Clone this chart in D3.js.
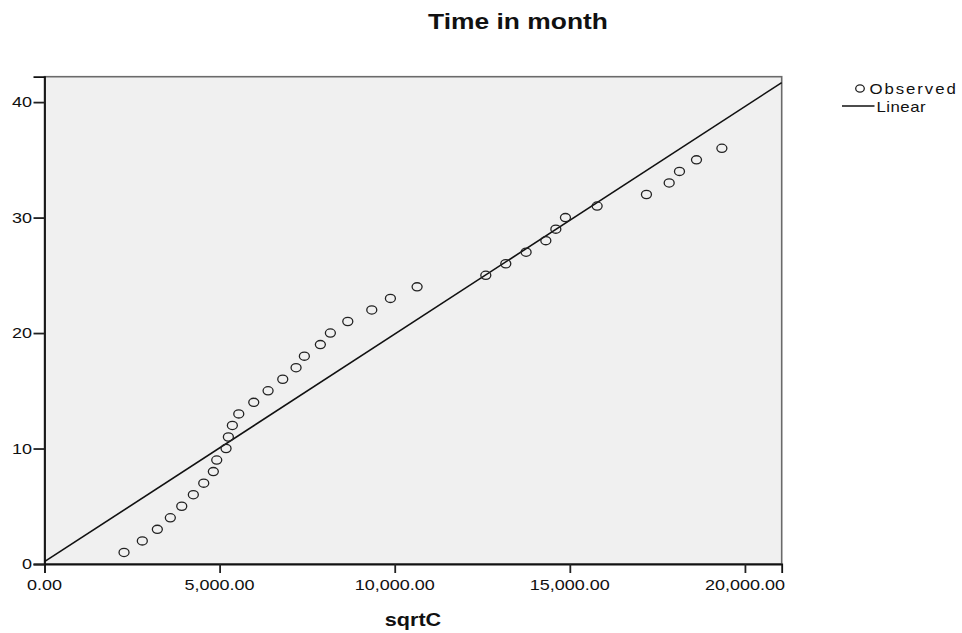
<!doctype html>
<html lang="en">
<head>
  <meta charset="utf-8">
  <title>Time in month</title>
  <style>
    body { margin: 0; background: #fff; }
    text { font-family: "Liberation Sans", Arial, sans-serif; fill: #111; }
  </style>
</head>
<body>
<div id="mychart"></div>
<script src="https://d3js.org/d3.v7.min.js"></script>
<script>
// observed values: time in month vs sqrtC
var months = [1,2,3,4,5,6,7,8,9,10,11,12,13,14,15,16,17,18,
  19,20,21,22,23,24,25,26,27,28,29,30,31,32,33,34,35,36];
var sqrtC = [2271,2793,3222,3593,3919,4250,4547,4821,4918,5184,5250,5364,5547,5975,6384,6803,7183,7420,
  7877,8163,8660,9345,9877,10639,12601,13172,13752,14315,14601,14875,15780,17188,17837,18131,18617,19342];
// fitted linear model
var intercept = 0.2;
var slope = 0.001971;
var xTicks = [0, 5000, 10000, 15000, 20000];
var yTicks = [0, 10, 20, 30, 40];

var width = 962;
var height = 633;
var svg = d3.select("#mychart").append("svg")
  .attr("width", width)
  .attr("height", height);

var x = d3.scaleLinear().domain([0, 21050]).range([44.5, 781.7]);
var y = d3.scaleLinear().domain([0, 42.2]).range([564, 76.7]);

// the source image is stretched horizontally, so text is too
var sx = 1.2;
function label(px, py, str, anchor, size, bold, spacing) {
  svg.append("text")
    .attr("transform", "translate(" + px + "," + py + ") scale(" + sx + ",1)")
    .attr("text-anchor", anchor)
    .attr("font-size", size)
    .attr("font-weight", bold ? "bold" : "normal")
    .attr("letter-spacing", spacing || 0)
    .text(str);
}

// plot background + border
svg.append("rect")
  .attr("x", x.range()[0]).attr("y", y.range()[1])
  .attr("width", x.range()[1] - x.range()[0])
  .attr("height", y.range()[0] - y.range()[1])
  .attr("fill", "#f0f0f0")
  .attr("stroke", "#6a6a6a")
  .attr("stroke-width", 1.6);

// fit line
svg.append("line")
  .attr("x1", x(0)).attr("y1", y(intercept))
  .attr("x2", x(21050)).attr("y2", y(intercept + slope * 21050))
  .attr("stroke", "#111")
  .attr("stroke-width", 1.6);

// observed points
svg.selectAll("ellipse.pt").data(months)
  .enter()
  .append("ellipse")
  .attr("class", "pt")
  .attr("cx", function(d, i) { return x(sqrtC[i]); })
  .attr("cy", function(d) { return y(d); })
  .attr("rx", 5)
  .attr("ry", 4.1)
  .attr("fill", "none")
  .attr("stroke", "#222")
  .attr("stroke-width", 1.3);

// axes
var xAxis = svg.append("g")
  .attr("transform", "translate(0," + y(0) + ")")
  .call(d3.axisBottom(x).tickValues(xTicks).tickSize(9).tickFormat(""));
var yAxis = svg.append("g")
  .attr("transform", "translate(" + x(0) + ",0)")
  .call(d3.axisLeft(y).tickValues(yTicks).tickSize(11).tickFormat(""));
[xAxis, yAxis].forEach(function(g) {
  g.select(".domain").attr("stroke", "#111").attr("stroke-width", 1.8);
  g.selectAll(".tick line").attr("stroke", "#222").attr("stroke-width", 1.8);
});

xTicks.forEach(function(t) {
  label(x(t), 590, d3.format(",.2f")(t), "middle", 15, false);
});
yTicks.forEach(function(t) {
  label(32, y(t) + 5.3, t, "end", 15, false);
});

// titles
label(518, 29, "Time in month", "middle", 22, true);
label(413, 626, "sqrtC", "middle", 18, true);

// legend
svg.append("ellipse")
  .attr("cx", 860).attr("cy", 88.5)
  .attr("rx", 4.3).attr("ry", 3.6)
  .attr("fill", "none").attr("stroke", "#222").attr("stroke-width", 1.3);
label(869.5, 93.5, "Observed", "start", 14, false, 1.6);
svg.append("line")
  .attr("x1", 842).attr("x2", 874.5)
  .attr("y1", 106).attr("y2", 106)
  .attr("stroke", "#111").attr("stroke-width", 1.5);
label(876.5, 112, "Linear", "start", 14, false, 0.4);
</script>
</body>
</html>
